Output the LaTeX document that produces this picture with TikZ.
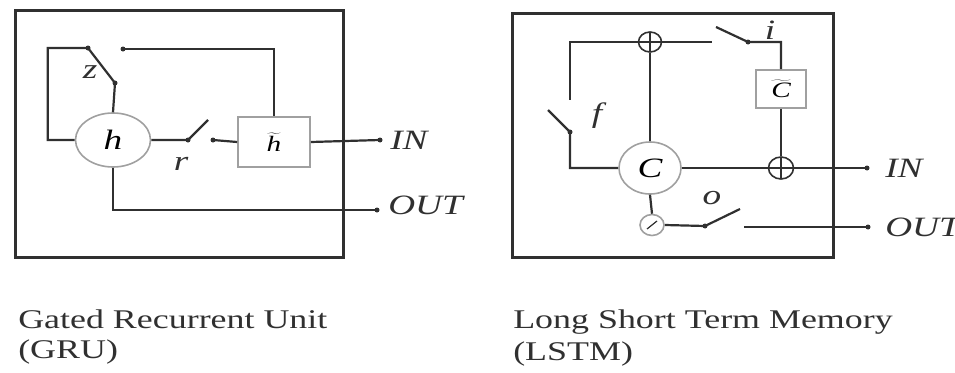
\documentclass[tikz,border=0pt]{standalone}
\usepackage{graphicx}
\usepackage{fontspec}
\setmainfont{Liberation Serif}
\usetikzlibrary{positioning, shapes}

\definecolor{wirecol}{HTML}{303030}
\definecolor{rimcol}{HTML}{A0A0A0}
\newcommand{\wide}[1]{\scalebox{1.33}[1]{#1}}

\begin{document}
\begin{tikzpicture}[
            x=1pt, y=-1pt,
            wire/.style={draw=wirecol, line width=2.2pt},
            frame/.style={draw=wirecol, line width=3pt},
            gate/.style={ellipse, draw=rimcol, line width=1.6pt, inner sep=0pt,
                font=\fontsize{28}{30}\selectfont\itshape},
            cellbox/.style={rectangle, draw=rimcol, line width=1.6pt, inner sep=0pt,
                font=\fontsize{22}{24}\selectfont},
            sumnode/.style={ellipse, draw=wirecol, line width=1.6pt, inner sep=0pt,
                minimum width=23pt, minimum height=20pt,
                path picture={\draw[wirecol, line width=1.2pt]
                    (path picture bounding box.north) -- (path picture bounding box.south)
                    (path picture bounding box.west) -- (path picture bounding box.east);}},
            divnode/.style={ellipse, draw=rimcol, line width=1.6pt, inner sep=0pt,
                minimum width=24pt, minimum height=21pt,
                path picture={\draw[wirecol, line width=1.2pt]
                    ([shift={(-5pt,-4pt)}]path picture bounding box.center) --
                    ([shift={(5pt,4pt)}]path picture bounding box.center);}},
            dot/.style={circle, fill=wirecol, inner sep=0pt, minimum size=5pt},
            tag/.style={inner sep=0pt, xscale=1.33, text=wirecol,
                font=\fontsize{28}{30}\selectfont\itshape},
            caption/.style={inner sep=0pt, xscale=1.33, anchor=base west,
                font=\fontsize{27}{31}\selectfont, text=wirecol},
        ]
            \useasboundingbox (0,0) rectangle (955,372);

            % GRU
            \draw[frame] (15,10) rectangle (343,257);
            \node[gate, minimum width=75pt, minimum height=54pt] (h) at (113,140) {\wide{h}};
            \node[cellbox, minimum width=72pt, minimum height=50pt] (ht) at (274,142)
                {\wide{$\widetilde{\textit{h}}$}};

            \coordinate (zhinge) at (88,48);
            \coordinate (ztip) at (115,83);
            \coordinate (zback) at (123,49);
            \coordinate (rin) at (188,140);
            \coordinate (rtip) at (208,120);
            \coordinate (rout) at (213,140);
            \coordinate (inG) at (380,140);
            \coordinate (outG) at (377,210);

            \draw[wire] (h.west) -- ++(-27,0) |- (zhinge) -- (ztip) -- (h.north);
            \draw[wire] (zback) -| (ht.north);
            \draw[wire] (h.east) -- (rin) -- (rtip);
            \draw[wire] (rout) -- (ht.west);
            \draw[wire] (ht.east) -- (inG);
            \draw[wire] (h.south) |- (outG);
            \foreach \p in {zhinge, ztip, zback, rin, rout, inG, outG}
                \node[dot] at (\p) {};

            \node[tag] (zlab) at (90,72) {z};
            \node[tag] (rlab) at (181,164) {r};
            \node[tag, anchor=west, right=10pt of inG] (inGl) {IN};
            \node[tag, anchor=west, right=11pt of outG, yshift=5pt] (outGl) {OUT};

            % LSTM
            \draw[frame] (512,13) rectangle (833,257);
            \node[sumnode] (ptop) at (650,42) {};
            \node[gate, minimum width=62pt, minimum height=52pt] (C) at (650,168) {\wide{C}};
            \node[cellbox, minimum width=50pt, minimum height=38pt] (Ct) at (781,89)
                {\wide{$\widetilde{\textit{C}}$}};
            \node[sumnode, minimum width=25pt, minimum height=22pt] (pin) at (781,168) {};
            \node[divnode] (pout) at (652,225) {};

            \coordinate (ftop) at (570,100);
            \coordinate (fhinge) at (570,132);
            \coordinate (ftip) at (548,110);
            \coordinate (iend) at (712,42);
            \coordinate (itip) at (716,27);
            \coordinate (ihinge) at (748,42);
            \coordinate (ohinge) at (705,226);
            \coordinate (otip) at (740,209);
            \coordinate (oend) at (744,227);
            \coordinate (inL) at (867,168);
            \coordinate (outL) at (868,227);

            \draw[wire] (ptop.west) -| (ftop);
            \draw[wire] (ftip) -- (fhinge) |- (C.west);
            \draw[wire] (ptop.south) -- (C.north);
            \draw[wire] (ptop.east) -- (iend);
            \draw[wire] (itip) -- (ihinge) -| (Ct.north);
            \draw[wire] (Ct.south) -- (pin.north);
            \draw[wire] (C.east) -- (pin.west);
            \draw[wire] (pin.east) -- (inL);
            \draw[wire] (C.south) -- (pout.north);
            \draw[wire] (pout.east) -- (ohinge) -- (otip);
            \draw[wire] (oend) -- (outL);
            \foreach \p in {fhinge, ihinge, ohinge, inL, outL}
                \node[dot] at (\p) {};

            \node[tag] (flab) at (597,116) {f};
            \node[tag] (ilab) at (770,30) {i};
            \node[tag] (olab) at (712,198) {o};
            \node[tag, anchor=west, right=18pt of inL] (inLl) {IN};
            \node[tag, anchor=west, right=17pt of outL] (outLl) {OUT};

            % captions
            \node[caption] (gruname) at (18,328) {Gated Recurrent Unit};
            \node[caption] (gruabbr) at (18,358) {(GRU)};
            \node[caption] (lstmname) at (513,328) {Long Short Term Memory};
            \node[caption] (lstmabbr) at (513,360) {(LSTM)};
        \end{tikzpicture}
\end{document}
